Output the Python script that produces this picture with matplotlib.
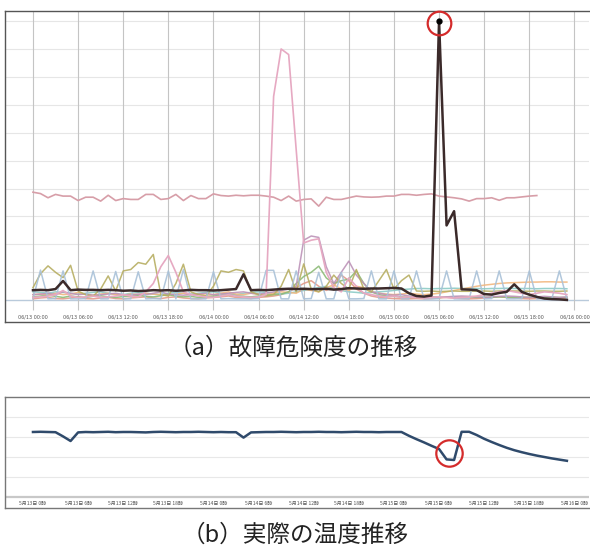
import numpy as np
import matplotlib.pyplot as plt

# hourly samples, 06/13 00:00 .. 06/15 23:00
hours = np.arange(72)
tick_hours = np.arange(0, 73, 6)

top_tick_labels = ["06/13 00:00", "06/13 06:00", "06/13 12:00", "06/13 18:00",
                   "06/14 00:00", "06/14 06:00", "06/14 12:00", "06/14 18:00",
                   "06/15 00:00", "06/15 06:00", "06/15 12:00", "06/15 18:00",
                   "06/16 00:00"]
bottom_tick_labels = ["5月13日 0時", "5月13日 6時", "5月13日 12時", "5月13日 18時",
                      "5月14日 0時", "5月14日 6時", "5月14日 12時", "5月14日 18時",
                      "5月15日 0時", "5月15日 6時", "5月15日 12時", "5月15日 18時",
                      "5月16日 0時"]

# failure risk of the faulty unit
risk_black = [0.36, 0.37, 0.36, 0.40, 0.69, 0.36, 0.38, 0.37, 0.37, 0.36,
              0.37, 0.36, 0.34, 0.35, 0.33, 0.34, 0.36, 0.35, 0.36, 0.34,
              0.35, 0.37, 0.36, 0.36, 0.35, 0.36, 0.38, 0.40, 0.93, 0.36,
              0.37, 0.36, 0.38, 0.40, 0.41, 0.40, 0.41, 0.40, 0.40, 0.41,
              0.38, 0.40, 0.43, 0.42, 0.41, 0.42, 0.42, 0.43, 0.44, 0.42,
              0.25, 0.15, 0.13, 0.17, 10.0, 2.68, 3.19, 0.39, 0.38, 0.36,
              0.22, 0.20, 0.26, 0.30, 0.57, 0.30, 0.20, 0.12, 0.06, 0.04,
              0.03, 0.01]

# other units
risk_pink_flat = [3.87, 3.82, 3.67, 3.79, 3.73, 3.73, 3.57, 3.69, 3.69, 3.55,
                  3.76, 3.57, 3.64, 3.61, 3.61, 3.79, 3.79, 3.61, 3.64, 3.79,
                  3.57, 3.75, 3.64, 3.64, 3.81, 3.75, 3.73, 3.76, 3.74, 3.76,
                  3.76, 3.73, 3.69, 3.57, 3.73, 3.55, 3.61, 3.63, 3.37, 3.69,
                  3.61, 3.61, 3.67, 3.73, 3.70, 3.69, 3.70, 3.73, 3.73, 3.79,
                  3.79, 3.76, 3.79, 3.81, 3.73, 3.70, 3.67, 3.63, 3.55, 3.64,
                  3.64, 3.67, 3.58, 3.67, 3.67, 3.70, 3.73, 3.75]

risk_pink_spike = [0.10, 0.12, 0.15, 0.20, 0.35, 0.15, 0.10, 0.12, 0.15, 0.10,
                   0.12, 0.15, 0.20, 0.15, 0.12, 0.30, 0.60, 1.20, 1.60, 1.00,
                   0.30, 0.20, 0.15, 0.12, 0.10, 0.15, 0.20, 0.15, 0.12, 0.10,
                   0.12, 0.20, 7.30, 9.00, 8.80, 5.40, 2.05, 2.15, 2.20, 1.00,
                   0.45, 0.30, 0.80, 0.50, 0.25, 0.20, 0.15, 0.12, 0.15, 0.10,
                   0.12, 0.10, 0.08, 0.10, 0.12, 0.10, 0.08, 0.10, 0.12, 0.15,
                   0.20, 0.25, 0.30, 0.35, 0.30, 0.25, 0.20, 0.25, 0.30, 0.28,
                   0.25, 0.20]

risk_lightblue = [0.05, 1.08, 0.05, 0.06, 1.05, 0.05, 0.05, 0.06, 1.05, 0.05,
                  0.05, 1.03, 0.05, 0.05, 1.02, 0.05, 0.06, 0.05, 1.05, 0.05,
                  1.10, 0.05, 0.05, 0.05, 1.02, 0.05, 0.06, 0.05, 0.05, 0.05,
                  0.06, 1.07, 1.07, 0.05, 0.05, 1.05, 0.05, 0.06, 1.00, 0.05,
                  0.05, 1.00, 0.05, 0.05, 0.06, 1.05, 0.05, 0.05, 1.05, 0.05,
                  0.05, 1.05, 0.05, 0.05, 0.06, 1.05, 0.05, 0.05, 0.05, 1.05,
                  0.05, 0.06, 1.05, 0.05, 0.05, 0.06, 1.05, 0.05, 0.05, 0.06,
                  1.05, 0.05]

risk_olive = [0.45, 0.95, 1.23, 1.00, 0.81, 1.25, 0.33, 0.20, 0.15, 0.40,
              0.87, 0.33, 1.05, 1.10, 1.35, 1.29, 1.64, 0.20, 0.15, 0.60,
              1.29, 0.30, 0.20, 0.15, 0.50, 1.05, 1.00, 1.10, 1.05, 0.30,
              0.20, 0.15, 0.20, 0.50, 1.10, 0.30, 1.30, 0.40, 0.30, 0.50,
              0.90, 0.60, 0.40, 1.10, 0.40, 0.30, 0.70, 1.10, 0.40, 0.70,
              0.90, 0.33, 0.32, 0.33, 0.31, 0.32, 0.33, 0.32, 0.32, 0.33,
              0.33, 0.32, 0.33, 0.34, 0.33, 0.33, 0.32, 0.33, 0.33, 0.32,
              0.32, 0.33]

risk_green = [0.12, 0.15, 0.18, 0.14, 0.10, 0.15, 0.12, 0.10, 0.14, 0.16,
              0.12, 0.10, 0.13, 0.15, 0.18, 0.14, 0.12, 0.16, 0.20, 0.15,
              0.12, 0.14, 0.10, 0.12, 0.15, 0.18, 0.20, 0.16, 0.14, 0.12,
              0.15, 0.18, 0.20, 0.22, 0.30, 0.60, 0.85, 1.00, 1.22, 0.80,
              0.60, 0.70, 0.75, 1.05, 0.60, 0.30, 0.20, 0.15, 0.14, 0.12,
              0.10, 0.12, 0.10, 0.11, 0.10, 0.12, 0.10, 0.11, 0.12, 0.10,
              0.11, 0.10, 0.12, 0.11, 0.10, 0.10, 0.11, 0.10, 0.10, 0.11,
              0.10, 0.10]

risk_mauve = [0.20, 0.22, 0.25, 0.20, 0.30, 0.25, 0.20, 0.22, 0.18, 0.20,
              0.22, 0.25, 0.20, 0.18, 0.22, 0.20, 0.25, 0.30, 0.22, 0.20,
              0.18, 0.20, 0.22, 0.25, 0.20, 0.22, 0.25, 0.28, 0.30, 0.25,
              0.22, 0.25, 0.30, 0.35, 0.40, 0.50, 2.15, 2.30, 2.25, 1.20,
              0.60, 1.00, 1.40, 0.90, 0.60, 0.30, 0.25, 0.20, 0.18, 0.20,
              0.15, 0.12, 0.10, 0.12, 0.10, 0.12, 0.14, 0.15, 0.14, 0.12,
              0.10, 0.12, 0.14, 0.15, 0.14, 0.12, 0.10, 0.12, 0.14, 0.12,
              0.10, 0.12]

risk_orange = [0.20, 0.22, 0.18, 0.25, 0.20, 0.22, 0.28, 0.20, 0.18, 0.22,
               0.25, 0.20, 0.18, 0.22, 0.20, 0.25, 0.22, 0.20, 0.18, 0.22,
               0.25, 0.20, 0.22, 0.18, 0.20, 0.25, 0.30, 0.22, 0.20, 0.25,
               0.22, 0.20, 0.25, 0.30, 0.28, 0.25, 0.40, 0.35, 0.30, 0.45,
               0.55, 0.40, 0.35, 0.50, 0.45, 0.30, 0.25, 0.22, 0.20, 0.22,
               0.25, 0.22, 0.20, 0.22, 0.25, 0.30, 0.35, 0.40, 0.45, 0.50,
               0.54, 0.57, 0.60, 0.62, 0.63, 0.64, 0.65, 0.65, 0.66, 0.66,
               0.65, 0.65]

risk_teal = [0.30, 0.28, 0.25, 0.30, 0.28, 0.25, 0.22, 0.25, 0.28, 0.30,
             0.25, 0.22, 0.20, 0.25, 0.28, 0.25, 0.22, 0.20, 0.25, 0.28,
             0.25, 0.22, 0.25, 0.28, 0.30, 0.25, 0.22, 0.20, 0.25, 0.28,
             0.30, 0.28, 0.25, 0.22, 0.25, 0.30, 0.35, 0.40, 0.45, 0.50,
             0.40, 0.35, 0.30, 0.28, 0.25, 0.28, 0.30, 0.32, 0.35, 0.38,
             0.40, 0.42, 0.42, 0.41, 0.42, 0.42, 0.43, 0.42, 0.42, 0.42,
             0.41, 0.42, 0.42, 0.43, 0.42, 0.42, 0.42, 0.41, 0.42, 0.42,
             0.42, 0.41]

risk_salmon = [0.05, 0.08, 0.10, 0.06, 0.05, 0.08, 0.12, 0.06, 0.05, 0.08,
               0.10, 0.06, 0.05, 0.08, 0.10, 0.12, 0.08, 0.06, 0.10, 0.12,
               0.08, 0.06, 0.05, 0.08, 0.10, 0.12, 0.15, 0.10, 0.08, 0.06,
               0.10, 0.12, 0.15, 0.20, 0.30, 0.45, 0.60, 0.70, 0.50, 0.35,
               0.50, 0.90, 0.70, 0.40, 0.25, 0.15, 0.10, 0.08, 0.06, 0.05,
               0.05, 0.06, 0.05, 0.06, 0.08, 0.10, 0.08, 0.06, 0.05, 0.06,
               0.08, 0.10, 0.12, 0.10, 0.08, 0.06, 0.05, 0.06, 0.08, 0.06,
               0.05, 0.05]

# measured temperature
temperature = [32.5, 32.6, 32.5, 32.4, 30.3, 28.0, 32.3, 32.5, 32.4, 32.5,
               32.6, 32.4, 32.5, 32.5, 32.4, 32.3, 32.5, 32.6, 32.5, 32.4,
               32.5, 32.5, 32.6, 32.5, 32.4, 32.5, 32.4, 32.4, 29.7, 32.3,
               32.4, 32.5, 32.5, 32.6, 32.5, 32.4, 32.5, 32.5, 32.6, 32.5,
               32.5, 32.4, 32.5, 32.6, 32.5, 32.5, 32.4, 32.5, 32.5, 32.5,
               30.6, 28.9, 27.3, 25.6, 24.0, 18.8, 18.5, 32.6, 32.6, 31.0,
               29.1, 27.5, 26.0, 24.6, 23.4, 22.4, 21.5, 20.7, 20.0, 19.3,
               18.7, 18.1]

jp_font = ["Noto Sans CJK JP", "DejaVu Sans"]

fig = plt.figure(figsize=(5.9, 5.45), dpi=100)

# ---- (a) failure risk ----
ax1 = fig.add_axes([5 / 590, 1 - 322 / 545, 584 / 590, 311 / 545])
ax1.set_xlim(-3.72, 73.94)
ax1.set_ylim(-0.78, 10.36)
for v in range(1, 11):
    ax1.axhline(v, color="#e6e6e6", lw=0.8, zorder=0)
ax1.axhline(0, color="#b9cadb", lw=1.0, zorder=0)
ax1.vlines(tick_hours, -0.36, 10.36, color="#c4c4c4", lw=0.8, zorder=0)

background = [
    (risk_salmon, "#e39a8a"),
    (risk_teal, "#8ccbc6"),
    (risk_orange, "#f2b77f"),
    (risk_green, "#8dbb78"),
    (risk_mauve, "#bd93b8"),
    (risk_olive, "#b7ae62"),
    (risk_lightblue, "#a9c1d8"),
]
for vals, col in background:
    ax1.plot(hours[:len(vals)], vals, color=col, lw=1.1, alpha=0.9, zorder=2)

ax1.plot(hours[:len(risk_pink_flat)], risk_pink_flat, color="#d79ea8", lw=1.2, zorder=3)
ax1.plot(hours, risk_pink_spike, color="#e6a9c2", lw=1.2, zorder=3)
ax1.plot(hours, risk_black, color="#3b2a2a", lw=1.8, zorder=4)

i_peak = int(np.argmax(risk_black))
ax1.plot(hours[i_peak], risk_black[i_peak], "o", color="black", markersize=3.5, zorder=5)
ax1.plot(hours[i_peak], risk_black[i_peak] - 0.08, "o", markersize=17, markerfacecolor="none",
         markeredgecolor="#d42b2b", markeredgewidth=1.6, zorder=6, clip_on=False)

for h, lab in zip(tick_hours, top_tick_labels):
    ax1.text(h, -0.6, lab, ha="center", va="center", fontsize=3.5, color="#555555")

ax1.set_xticks([])
ax1.set_yticks([])
ax1.spines["right"].set_visible(False)
for s in ["left", "top", "bottom"]:
    ax1.spines[s].set_color("#555555")
    ax1.spines[s].set_linewidth(1.0)

# ---- (b) actual temperature ----
ax2 = fig.add_axes([5 / 590, 1 - 508 / 545, 584 / 590, 111 / 545])
ax2.set_xlim(-3.72, 73.94)
ax2.set_ylim(-5.5, 50)
for v in [10, 20, 30, 40]:
    ax2.axhline(v, color="#e8e8e8", lw=0.8, zorder=0)
ax2.axhline(0, color="#c8c8c8", lw=1.6, zorder=0)
ax2.plot(hours, temperature, color="#2f4a6b", lw=1.8, zorder=3)

# circle the sudden drop (before the recovery at 06:00 on the 15th)
i_min = int(np.argmin(temperature[:60]))
ax2.plot(hours[i_min] - 0.7, temperature[i_min] + 3.5, "o", markersize=19, markerfacecolor="none",
         markeredgecolor="#d42b2b", markeredgewidth=1.6, zorder=6)

for h, lab in zip(tick_hours, bottom_tick_labels):
    ax2.text(h, -3.0, lab, ha="center", va="center", fontsize=3.6, color="#555555",
             family=jp_font)

ax2.set_xticks([])
ax2.set_yticks([])
ax2.spines["right"].set_visible(False)
for s in ["left", "top", "bottom"]:
    ax2.spines[s].set_color("#777777")
    ax2.spines[s].set_linewidth(1.0)

# captions
fig.text(0.497, 1 - 348 / 545, "（a）故障危険度の推移", ha="center", va="center",
         fontsize=17, family=jp_font, color="#222222")
fig.text(0.500, 1 - 535 / 545, "（b）実際の温度推移", ha="center", va="center",
         fontsize=17, family=jp_font, color="#222222")

fig.savefig("out.png", dpi=100)
